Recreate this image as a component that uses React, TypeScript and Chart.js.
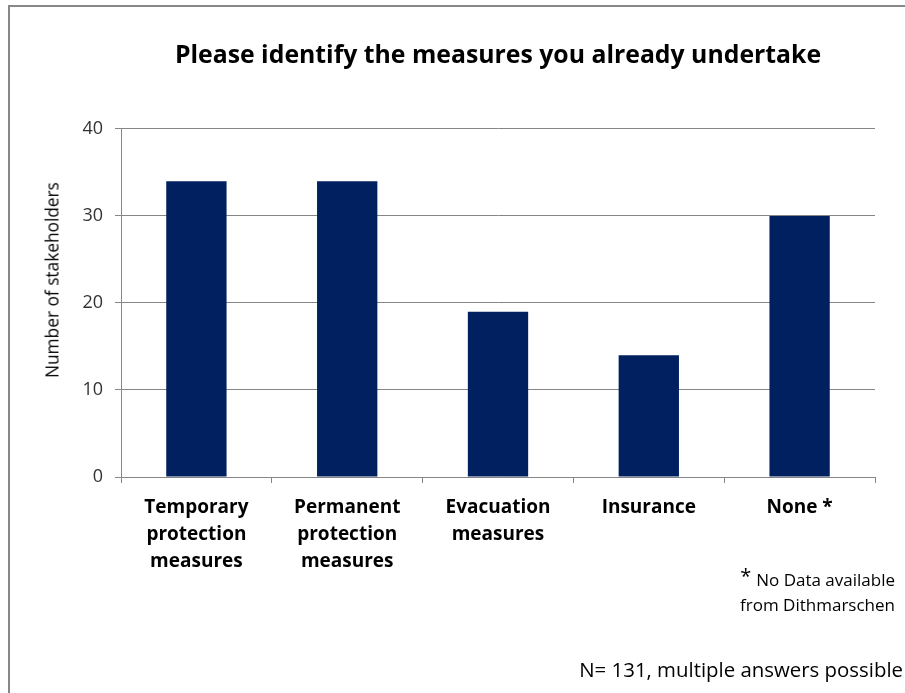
import React, { useEffect, useRef } from "react";
import { Chart, registerables } from "chart.js";

Chart.register(...registerables);

const categories: string[][] = [
  ["Temporary", "protection", "measures"],
  ["Permanent", "protection", "measures"],
  ["Evacuation", "measures"],
  ["Insurance"],
  ["None *"],
];
const stakeholders: number[] = [34, 34, 19, 14, 30];
const yTicks: number[] = [0, 10, 20, 30, 40];
const chartTitle = "Please identify the measures you already undertake";
const yAxisTitle = "Number of stakeholders";
const noteLines: string[] = ["No Data available", "from Dithmarschen"];
const footNote = "N= 131, multiple answers possible";

const FONT = "'Open Sans', Lato, sans-serif";

export default function App() {
  const ref = useRef<HTMLCanvasElement | null>(null);

  useEffect(() => {
    if (!ref.current) return;
    const chart = new Chart(ref.current, {
      type: "bar",
      data: {
        labels: categories,
        datasets: [
          {
            data: stakeholders,
            backgroundColor: "#002060",
            borderWidth: 0,
            barPercentage: 0.4,
            categoryPercentage: 1,
          },
        ],
      },
      options: {
        responsive: false,
        animation: false,
        layout: { padding: { left: 0, right: 30, top: 0, bottom: 0 } },
        plugins: {
          legend: { display: false },
          tooltip: { enabled: false },
          title: {
            display: true,
            text: chartTitle,
            fullSize: false,
            color: "#000",
            font: { family: FONT, size: 24.8, weight: "bold", lineHeight: 1.2 },
            padding: { top: 41, bottom: 58.2 },
          },
        },
        scales: {
          x: {
            afterFit: (s: any) => {
              s.height = 216;
            },
            grid: {
              offset: true,
              drawOnChartArea: false,
              drawTicks: true,
              tickLength: 6,
              color: "#868686",
            },
            border: { color: "#868686" },
            ticks: {
              color: "#000",
              padding: 11,
              font: { family: FONT, size: 19, weight: "bold", lineHeight: 1.42 },
              maxRotation: 0,
              autoSkip: false,
            },
          },
          y: {
            min: 0,
            max: 40,
            afterFit: (s: any) => {
              s.width = 121;
            },
            afterBuildTicks: (s: any) => {
              s.ticks = yTicks.map((v) => ({ value: v }));
            },
            grid: {
              color: "#868686",
              tickLength: 6,
            },
            border: { color: "#868686" },
            ticks: {
              color: "#333",
              padding: 12,
              font: { family: FONT, size: 18 },
            },
          },
        },
      },
    });
    return () => chart.destroy();
  }, []);

  return (
    <div
      style={{
        position: "absolute",
        left: 0,
        top: 0,
        width: 905,
        height: 693,
        overflow: "hidden",
        background: "#fff",
        fontFamily: FONT,
      }}
    >
      <div
        style={{
          position: "absolute",
          left: 8,
          top: 5,
          width: 1200,
          height: 1200,
          borderTop: "2px solid #878787",
          borderLeft: "2px solid #878787",
        }}
      />
      <canvas ref={ref} width={905} height={693} style={{ position: "absolute", left: 0, top: 0 }} />
      <div
        style={{
          position: "absolute",
          left: 52,
          top: 280,
          transform: "translate(-50%, -50%) rotate(-90deg)",
          whiteSpace: "nowrap",
          fontSize: 17.3,
          color: "#000",
        }}
      >
        {yAxisTitle}
      </div>
      <div
        style={{
          position: "absolute",
          right: 10,
          top: 566,
          textAlign: "right",
          fontSize: 17,
          lineHeight: "25px",
          color: "#000",
        }}
      >
        <div>
          <span style={{ fontSize: 20, position: "relative", top: -3, marginRight: 5 }}>*</span>
          {noteLines[0]}
        </div>
        <div>{noteLines[1]}</div>
      </div>
      <div
        style={{
          position: "absolute",
          right: 2,
          top: 655,
          fontSize: 20.4,
          whiteSpace: "nowrap",
          color: "#000",
        }}
      >
        {footNote}
      </div>
    </div>
  );
}
